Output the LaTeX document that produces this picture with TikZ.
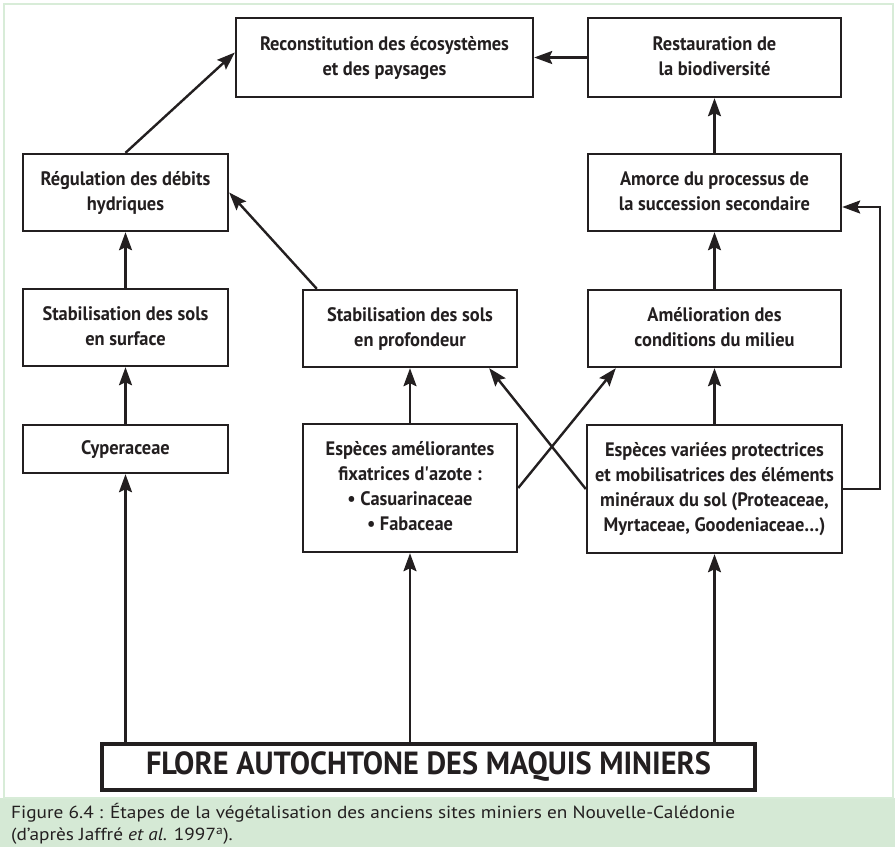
\documentclass[tikz,border=0pt]{standalone}
\usepackage{fontspec}
\usepackage{graphicx}
\usetikzlibrary{arrows.meta,calc}
\setmainfont{PT Sans}
\definecolor{ink}{HTML}{231F20}
\definecolor{capgreen}{HTML}{D5E9D5}
\definecolor{framegreen}{HTML}{D8ECD8}
\newlength\refbw \newlength\reffw \newlength\refcw
\newcommand\bxfont{\bfseries\fontsize{19.5}{25}\selectfont}
\newcommand\flfont{\bfseries\fontsize{32}{36}\selectfont}
\newcommand\cpfont{\fontsize{17.5}{22}\selectfont}
\AtBeginDocument{%
  \settowidth\refbw{\bxfont Reconstitution des écosystèmes}%
  \settowidth\reffw{\flfont FLORE AUTOCHTONE DES MAQUIS MINIERS}%
  \settowidth\refcw{\cpfont Figure 6.4 : Étapes de la végétalisation des anciens sites miniers en Nouvelle-Calédonie}%
  \pgfmathsetmacro\bxs{249/\refbw}%
  \pgfmathsetmacro\fls{565/\reffw}%
  \pgfmathsetmacro\cps{724/\refcw}%
}
\newcommand\bt[1]{\scalebox{\bxs}[1]{\begin{tabular}{@{}c@{}}#1\end{tabular}}}
\tikzset{
  bx/.style={draw=ink, line width=2.4pt, inner sep=0pt, text=ink, font=\bxfont},
  arr/.style={draw=ink, line width=2.4pt, -{Stealth[length=18pt,width=13pt,inset=3pt]}}
}
\begin{document}
\begin{tikzpicture}[x=1pt,y=1pt]
\useasboundingbox (0,0) rectangle (895,-847);
\fill[white] (0,0) rectangle (895,-847);
\fill[capgreen] (0,-798) rectangle (895,-847);
\draw[framegreen, line width=2.5pt] (4,-4) rectangle (893,-798);

\node[bx, minimum width=297pt, minimum height=79pt] (rec) at (384.5,-57.5) {\bt{Reconstitution des écosystèmes\\et des paysages}};
\node[bx, minimum width=253pt, minimum height=79pt] (res) at (714.5,-57.5) {\bt{Restauration de\\la biodiversité}};
\node[bx, minimum width=205pt, minimum height=77pt] (reg) at (125.5,-192.5) {\bt{Régulation des débits\\hydriques}};
\node[bx, minimum width=253pt, minimum height=77pt] (amo) at (714.5,-192.5) {\bt{Amorce du processus de\\la succession secondaire}};
\node[bx, minimum width=205pt, minimum height=77pt] (ss) at (125.5,-327.5) {\bt{Stabilisation des sols\\en surface}};
\node[bx, minimum width=214pt, minimum height=77pt] (sp) at (410,-328.5) {\bt{Stabilisation des sols\\en profondeur}};
\node[bx, minimum width=253pt, minimum height=77pt] (am) at (714.5,-328.5) {\bt{Amélioration des\\conditions du milieu}};
\node[bx, minimum width=205pt, minimum height=48pt] (cyp) at (125.5,-449) {\bt{Cyperaceae}};
\node[bx, minimum width=214pt, minimum height=128pt] (ea) at (410,-488) {\bt{Espèces améliorantes\\fixatrices d\textquotesingle azote :\\• Casuarinaceae\\• Fabaceae}};
\node[bx, minimum width=255pt, minimum height=128pt] (ev) at (714.5,-489) {\bt{Espèces variées protectrices\\et mobilisatrices des éléments\\minéraux du sol (Proteaceae,\\Myrtaceae, Goodeniaceae…)}};
\node[bx, line width=3.2pt, minimum width=653pt, minimum height=46pt, font=\flfont] (fl) at (428.5,-767) {\scalebox{\fls}[1]{FLORE AUTOCHTONE DES MAQUIS MINIERS}};

% connectors
\draw[arr] (res.west) -- (rec.east);
\draw[arr] (reg.north) -- ([yshift=5pt]rec.west);
\draw[arr] (ss.north) -- (reg.south);
\draw[arr] (cyp.north) -- (ss.south);
\draw[arr] (cyp.south |- fl.north) -- (cyp.south);
\draw[arr] ([xshift=15pt]sp.north west) -- (reg.east);
\draw[arr] (ea.north) -- (sp.south);
\draw[arr] (ea.south |- fl.north) -- (ea.south);
\draw[arr] (ea.east) -- ([xshift=29pt]am.south west);
\draw[arr] (ev.west) -- ([xshift=-29pt]sp.south east);
\draw[arr] (amo.north) -- (res.south);
\draw[arr] (am.north) -- (amo.south);
\draw[arr] (ev.north) -- (am.south);
\draw[arr] (ev.south |- fl.north) -- (ev.south);
\coordinate (fb) at (880,-207);
\draw[arr] (ev.east) -| (fb) -- (amo.east |- fb);

\node[anchor=north west, text=ink, inner sep=0pt, font=\cpfont] (cap) at (11,-803)
  {\scalebox{\cps}[1]{\begin{tabular}{@{}l@{}}Figure 6.4 : Étapes de la végétalisation des anciens sites miniers en Nouvelle-Calédonie\\(d’après Jaffré \textit{et al.} 1997\textsuperscript{a}).\end{tabular}}};
\end{tikzpicture}
\end{document}
